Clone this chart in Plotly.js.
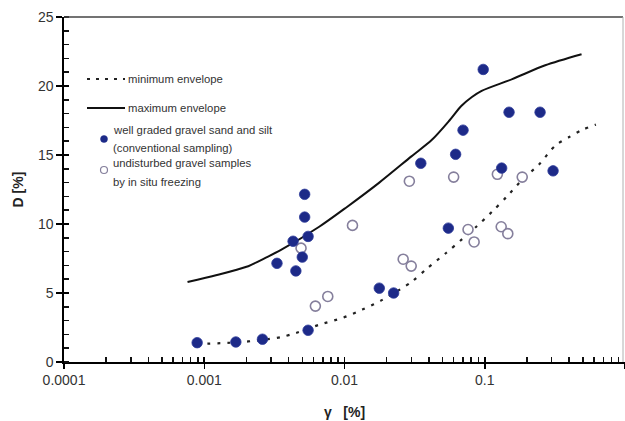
<!DOCTYPE html>
<html>
<head>
<meta charset="utf-8">
<script src="https://cdn.plot.ly/plotly-3.0.1.min.js"></script>
<style>
  html, body { margin: 0; padding: 0; background: #ffffff; }
  #chart { width: 625px; height: 421px; }
</style>
</head>
<body>
<div id="chart"></div>
<script>
// Shear strain (gamma, %) against damping ratio (D, %)

// well graded gravel, sand and silt (conventional sampling)
const gravelGamma = [0.00089, 0.00168, 0.0026, 0.0055, 0.0033, 0.0045, 0.0050, 0.0052, 0.0052, 0.0043, 0.0055,
                     0.0177, 0.0224, 0.035, 0.062, 0.070, 0.0975, 0.149, 0.248, 0.132, 0.307, 0.055];
const gravelD     = [1.4, 1.45, 1.65, 2.3, 7.15, 6.6, 7.6, 12.15, 10.5, 8.75, 9.1,
                     5.35, 5.0, 14.4, 15.05, 16.8, 21.2, 18.1, 18.1, 14.05, 13.85, 9.7];

// undisturbed gravel samples by in situ freezing
const frozenGamma = [0.0062, 0.0076, 0.0049, 0.0114, 0.029, 0.060, 0.123, 0.185, 0.076, 0.084, 0.131, 0.146, 0.0262, 0.0299];
const frozenD     = [4.05, 4.75, 8.25, 9.9, 13.1, 13.4, 13.6, 13.4, 9.6, 8.7, 9.8, 9.3, 7.45, 6.95];

// minimum envelope
const minGamma = [0.00089, 0.0017, 0.0026, 0.0035, 0.0045, 0.0066, 0.0097, 0.0134, 0.0186, 0.030, 0.039,
                  0.053, 0.069, 0.087, 0.113, 0.144, 0.189, 0.243, 0.32, 0.40, 0.49, 0.62];
const minD     = [1.3, 1.42, 1.6, 1.8, 2.1, 2.7, 3.2, 3.8, 4.5, 5.8, 6.8,
                  7.9, 8.9, 9.8, 10.9, 12.0, 13.3, 14.3, 15.7, 16.3, 16.8, 17.2];

// maximum envelope
const maxGamma = [0.00076, 0.00123, 0.0020, 0.0028, 0.0035, 0.0066, 0.0103, 0.0177, 0.030, 0.042,
                  0.056, 0.068, 0.081, 0.095, 0.157, 0.27, 0.49];
const maxD     = [5.8, 6.3, 6.9, 7.6, 8.1, 9.8, 11.2, 13.0, 14.9, 16.1,
                  17.5, 18.55, 19.2, 19.65, 20.5, 21.5, 22.3];

// axis ticks
const xTickVals = [0.0001, 0.001, 0.01, 0.1, 1];
const xTickText = ['0.0001', '0.001', '0.01', '0.1', '1'];

// legend entries
const legendLines = ['minimum envelope', 'maximum envelope'];
const legendFilled = ['well graded gravel sand and silt', '(conventional sampling)'];
const legendHollow = ['undisturbed gravel samples', 'by in situ freezing'];

const navy = '#1d2a88';
const hollowEdge = '#857f9c';
const textColor = '#333333';
const font = 'Liberation Sans, Arial, sans-serif';

// minor log ticks 2..9 in each decade
const xMinor = [];
for (let e = -4; e < 0; e++) {
  for (let m = 2; m <= 9; m++) xMinor.push(m * Math.pow(10, e));
}

const traces = [
  {
    x: minGamma, y: minD, type: 'scatter', mode: 'lines',
    line: { color: '#222222', width: 2.2, dash: '3px,7px', shape: 'spline', smoothing: 0.8 },
    hoverinfo: 'skip', showlegend: false
  },
  {
    x: maxGamma, y: maxD, type: 'scatter', mode: 'lines',
    line: { color: '#111111', width: 2, shape: 'spline', smoothing: 0.8 },
    hoverinfo: 'skip', showlegend: false
  },
  {
    x: frozenGamma, y: frozenD, type: 'scatter', mode: 'markers',
    marker: { size: 10, color: '#ffffff', line: { color: hollowEdge, width: 1.6 } },
    showlegend: false
  },
  {
    x: gravelGamma, y: gravelD, type: 'scatter', mode: 'markers',
    marker: { size: 10.5, color: navy, line: { color: '#2c3a99', width: 0.8 } },
    showlegend: false
  },
  // carries the inner half of the crossing major ticks
  { x: [], y: [], xaxis: 'x2', yaxis: 'y2', type: 'scatter', hoverinfo: 'skip', showlegend: false }
];

// plot area in pixels: x 64..625, y 17..362
const plotW = 561, plotH = 345, plotL = 64, plotT = 17;
const px = v => (v - plotL) / plotW;
const py = v => (plotT + plotH - v) / plotH;

const shapes = [
  // frame top and right
  { type: 'line', xref: 'paper', yref: 'paper', x0: 0, x1: px(623), y0: 1, y1: 1,
    line: { color: '#444444', width: 1.3 } },
  { type: 'line', xref: 'paper', yref: 'paper', x0: px(623), x1: px(623), y0: 0, y1: 1,
    line: { color: '#b0b0b0', width: 1 } },
  // legend samples
  { type: 'line', xref: 'paper', yref: 'paper', x0: px(87), x1: px(125), y0: py(79), y1: py(79),
    line: { color: '#222222', width: 2.2, dash: '3px,6px' } },
  { type: 'line', xref: 'paper', yref: 'paper', x0: px(87), x1: px(125), y0: py(108), y1: py(108),
    line: { color: '#111111', width: 2 } },
  { type: 'circle', xref: 'paper', yref: 'paper', x0: px(100.5), x1: px(107.5), y0: py(142.5), y1: py(135.5),
    fillcolor: navy, line: { color: navy, width: 0.5 } },
  { type: 'circle', xref: 'paper', yref: 'paper', x0: px(100.5), x1: px(107.5), y0: py(173.5), y1: py(166.5),
    fillcolor: '#ffffff', line: { color: hollowEdge, width: 1.2 } }
];

const legendFont = { family: font, size: 11.3, color: textColor };
const annotations = [
  { xref: 'paper', yref: 'paper', x: px(126), y: py(79), text: legendLines[0] },
  { xref: 'paper', yref: 'paper', x: px(126), y: py(108), text: legendLines[1] },
  { xref: 'paper', yref: 'paper', x: px(111), y: py(130), text: legendFilled[0] },
  { xref: 'paper', yref: 'paper', x: px(111), y: py(148), text: legendFilled[1] },
  { xref: 'paper', yref: 'paper', x: px(111), y: py(163), text: legendHollow[0] },
  { xref: 'paper', yref: 'paper', x: px(111), y: py(182), text: legendHollow[1] }
].map(a => Object.assign(a, { xanchor: 'left', yanchor: 'middle', showarrow: false, font: legendFont }));

const tickFont = { family: font, size: 14, color: textColor };
const titleFont = { family: font, size: 14, color: '#222222', weight: 'bold' };

const layout = {
  width: 625, height: 421,
  margin: { l: 64, r: 0, t: 17, b: 59, pad: 0 },
  paper_bgcolor: '#ffffff', plot_bgcolor: '#ffffff',
  showlegend: false,
  xaxis: {
    type: 'log', range: [-4, 0], automargin: false,
    tickmode: 'array', tickvals: xTickVals, ticktext: xTickText,
    ticks: 'outside', ticklen: 5, tickwidth: 1.5, tickcolor: '#000000',
    showline: true, linecolor: '#000000', linewidth: 1.6,
    showgrid: false, zeroline: false, tickfont: tickFont,
    minor: { tickmode: 'array', tickvals: xMinor, ticks: 'inside', ticklen: 5, tickwidth: 1.5, tickcolor: '#111111' },
    title: { text: 'γ&nbsp;&nbsp;&nbsp;[%]', font: titleFont, standoff: 20 }
  },
  yaxis: {
    range: [0, 25], automargin: false,
    tickmode: 'linear', tick0: 0, dtick: 5,
    ticks: 'outside', ticklen: 6, tickwidth: 1.5, tickcolor: '#000000',
    showline: true, linecolor: '#000000', linewidth: 1.6,
    showgrid: false, zeroline: false, tickfont: tickFont,
    minor: { dtick: 1, ticks: 'inside', ticklen: 5, tickwidth: 1.5, tickcolor: '#111111' },
    title: { text: 'D [%]', font: titleFont, standoff: 11 }
  },
  xaxis2: {
    type: 'log', range: [-4, 0], overlaying: 'x', anchor: 'y2',
    tickmode: 'array', tickvals: xTickVals, showticklabels: false,
    ticks: 'inside', ticklen: 5, tickwidth: 1.6, tickcolor: '#000000',
    showline: false, showgrid: false, zeroline: false
  },
  yaxis2: {
    range: [0, 25], overlaying: 'y', anchor: 'x2',
    tickmode: 'linear', tick0: 0, dtick: 5, showticklabels: false,
    ticks: 'inside', ticklen: 5, tickwidth: 1.6, tickcolor: '#000000',
    showline: false, showgrid: false, zeroline: false
  },
  shapes: shapes,
  annotations: annotations
};

Plotly.newPlot('chart', traces, layout, { displayModeBar: false, staticPlot: true });
</script>
</body>
</html>
